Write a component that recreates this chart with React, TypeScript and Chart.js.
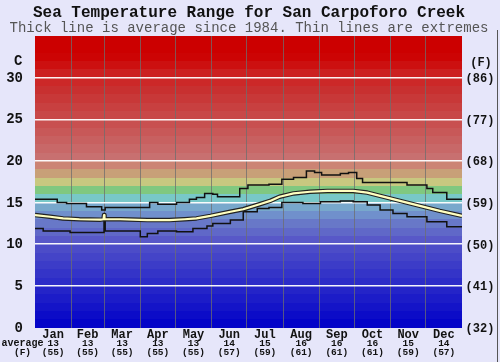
import React, { useEffect, useRef } from 'react';
import { Chart, registerables } from 'chart.js';

Chart.register(...registerables);

// ---- data ----
const months = ['Jan', 'Feb', 'Mar', 'Apr', 'May', 'Jun', 'Jul', 'Aug', 'Sep', 'Oct', 'Nov', 'Dec'];
const monthDays = [31, 28, 31, 30, 31, 30, 31, 31, 30, 31, 30, 31];
const monthAvgC = [13, 13, 13, 13, 13, 14, 15, 16, 16, 16, 15, 14];
const monthAvgF = [55, 55, 55, 55, 55, 57, 59, 61, 61, 61, 59, 57];
const yTicksC = [0, 5, 10, 15, 20, 25, 30];
const yTicksF = [32, 41, 50, 59, 68, 77, 86];

const maxDays = [0, 19, 27, 44, 57, 60, 98, 105, 121, 132, 138, 145, 152, 156, 175, 182, 200, 211, 221, 232, 239, 245, 261, 268, 275, 280, 318, 335, 340, 352, 365];
const maxTemps = [15.4, 15.0, 14.9, 14.5, 14.1, 14.4, 15.0, 14.8, 15.0, 15.4, 15.6, 16.1, 16.0, 15.7, 16.7, 17.1, 17.2, 17.8, 18.0, 18.8, 18.6, 18.3, 18.5, 18.6, 17.9, 17.4, 17.1, 16.7, 16.2, 15.4, 15.4];

const minDays = [0, 7, 30, 59, 60, 90, 96, 105, 121, 135, 147, 152, 167, 178, 190, 200, 211, 229, 244, 261, 272, 284, 295, 306, 318, 335, 352, 365];
const minTemps = [11.9, 11.6, 11.4, 13.6, 11.6, 10.9, 11.3, 11.6, 11.5, 11.9, 12.2, 12.5, 12.9, 13.9, 14.3, 14.4, 15.0, 14.9, 15.1, 15.2, 15.1, 14.7, 14.1, 13.7, 13.3, 12.7, 12.1, 12.1];

const avgDays = [0, 13, 24, 38, 56, 58.6, 59, 59.4, 73, 96, 115, 128, 138, 150, 167, 178, 192, 201, 209, 221, 235, 250, 272, 284, 295, 312, 329, 346, 365];
const avgTemps = [13.5, 13.3, 13.1, 13.0, 12.95, 13.0, 13.5, 13.0, 13.0, 12.9, 12.9, 13.0, 13.1, 13.4, 13.9, 14.2, 14.8, 15.2, 15.7, 16.1, 16.3, 16.4, 16.4, 16.2, 15.8, 15.2, 14.6, 14.0, 13.4];

// ---- style ----
const bandColors = [
  '#0404c8', '#0c0cc8', '#1414c8', '#1c1cc8', '#2424c8', '#2c2cc8', '#3434c8', '#3c3cc8', '#4444c8', '#4c4cc8',
  '#5858c8', '#6068c8', '#6878c8', '#7090cc', '#78a8cc', '#78c8c8', '#80c880', '#c8c880', '#c8a078', '#cc8474',
  '#c87070', '#c86868', '#c86060', '#c85858', '#c85050', '#c84848', '#c84040', '#c83838', '#c83030', '#cc2828',
  '#cc2020', '#cc1010', '#cc0404', '#cc0000', '#cc0000',
];

const monthStarts: number[] = [0];
monthDays.forEach((d, i) => monthStarts.push(monthStarts[i] + d));

const pts = (xs: number[], ys: number[]) => xs.map((x, i) => ({ x, y: ys[i] }));

const bgPlugin = {
  id: 'bgBands',
  beforeDraw(chart: any) {
    const { ctx, chartArea, scales } = chart;
    const { left, right } = chartArea;
    const y = scales.y;
    ctx.save();
    ctx.fillStyle = '#e6e6fa';
    ctx.fillRect(0, 0, chart.width, chart.height);
    for (let v = 0; v < 35; v++) {
      const top = Math.round(y.getPixelForValue(v + 1));
      const bot = Math.round(y.getPixelForValue(v));
      ctx.fillStyle = bandColors[Math.min(v, bandColors.length - 1)];
      ctx.fillRect(left, top, right - left, bot - top);
    }
    ctx.restore();
  },
};

const MONO = '"Liberation Mono", "DejaVu Sans Mono", monospace';

const textPlugin = {
  id: 'texts',
  afterDraw(chart: any) {
    const { ctx, scales, chartArea } = chart;
    const x = scales.x;
    const y = scales.y;
    ctx.save();
    ctx.textBaseline = 'middle';
    ctx.textAlign = 'center';
    ctx.fillStyle = '#111';
    ctx.font = `bold 16px ${MONO}`;
    ctx.fillText('Sea Temperature Range for San Carpoforo Creek', 249, 13);
    ctx.fillStyle = '#555';
    ctx.font = `14px ${MONO}`;
    ctx.fillText('Thick line is average since 1984. Thin lines are extremes', 249, 28);

    ctx.fillStyle = '#111';
    // left axis
    ctx.textAlign = 'right';
    ctx.font = `bold 14px ${MONO}`;
    ctx.fillText('C', 22.5, 61);
    yTicksC.forEach((t) => ctx.fillText(String(t), 23, y.getPixelForValue(t) + 0.5));
    // right axis
    ctx.textAlign = 'center';
    ctx.font = `bold 12px ${MONO}`;
    ctx.fillText('(F)', 481, 63);
    yTicksC.forEach((t, i) => ctx.fillText(`(${yTicksF[i]})`, 480, y.getPixelForValue(t) + 1.5));
    // bottom
    months.forEach((m, i) => {
      const cx = x.getPixelForValue((monthStarts[i] + monthStarts[i + 1]) / 2);
      ctx.font = `bold 12px ${MONO}`;
      ctx.fillText(m, cx, 334.5);
      ctx.font = `bold 9.5px ${MONO}`;
      ctx.fillText(String(monthAvgC[i]), cx, 343.5);
      ctx.fillText(`(${monthAvgF[i]})`, cx, 353);
    });
    ctx.font = `bold 10px ${MONO}`;
    ctx.fillText('average', 22.5, 343.5);
    ctx.font = `bold 9.5px ${MONO}`;
    ctx.fillText('(F)', 22.5, 353);
    // right border
    ctx.strokeStyle = '#555';
    ctx.lineWidth = 1;
    ctx.beginPath();
    ctx.moveTo(497.5, chartArea.top - 6);
    ctx.lineTo(497.5, 362);
    ctx.stroke();
    ctx.restore();
  },
};

export default function App() {
  const ref = useRef<HTMLCanvasElement | null>(null);
  useEffect(() => {
    if (!ref.current) return;
    const chart = new Chart(ref.current, {
      type: 'line',
      data: {
        datasets: [
          {
            data: pts(avgDays, avgTemps),
            borderColor: '#ffffc0',
            borderWidth: 2.2,
            borderJoinStyle: 'round',
            pointRadius: 0,
            tension: 0,
          },
          {
            data: pts(avgDays, avgTemps),
            borderColor: '#222',
            borderWidth: 4.5,
            borderJoinStyle: 'round',
            pointRadius: 0,
            tension: 0,
          },
          {
            data: pts(maxDays, maxTemps),
            borderColor: '#111',
            borderWidth: 1.5,
            pointRadius: 0,
            stepped: 'before',
          },
          {
            data: pts(minDays, minTemps),
            borderColor: '#111',
            borderWidth: 1.5,
            pointRadius: 0,
            stepped: 'before',
          },
        ],
      },
      options: {
        animation: false,
        responsive: false,
        devicePixelRatio: 1,
        layout: { padding: { left: 35, right: 38, top: 36, bottom: 34.5 } },
        plugins: { legend: { display: false }, tooltip: { enabled: false }, title: { display: false } },
        scales: {
          x: {
            type: 'linear',
            min: 0,
            max: 365,
            afterBuildTicks: (axis: any) => {
              axis.ticks = monthStarts.map((v) => ({ value: v }));
            },
            ticks: { display: false },
            border: { display: false },
            grid: {
              drawTicks: false,
              lineWidth: 1,
              color: (c: any) => (c.tick && (c.tick.value === 0 || c.tick.value === 365) ? 'rgba(0,0,0,0)' : 'rgba(110,110,110,0.75)'),
            },
          },
          y: {
            type: 'linear',
            min: 0,
            max: 35,
            ticks: { display: false, stepSize: 5 },
            border: { display: false },
            grid: {
              drawTicks: false,
              lineWidth: 1.5,
              color: (c: any) => (c.tick && (c.tick.value === 0 || c.tick.value === 35) ? 'rgba(0,0,0,0)' : 'rgba(255,255,255,0.95)'),
            },
          },
        },
      },
      plugins: [bgPlugin, textPlugin],
    });
    return () => chart.destroy();
  }, []);
  return (
    <div style={{ position: 'absolute', left: 0, top: 0, width: 500, height: 362 }}>
      <canvas ref={ref} width={500} height={362} style={{ display: 'block', width: 500, height: 362 }} />
    </div>
  );
}
